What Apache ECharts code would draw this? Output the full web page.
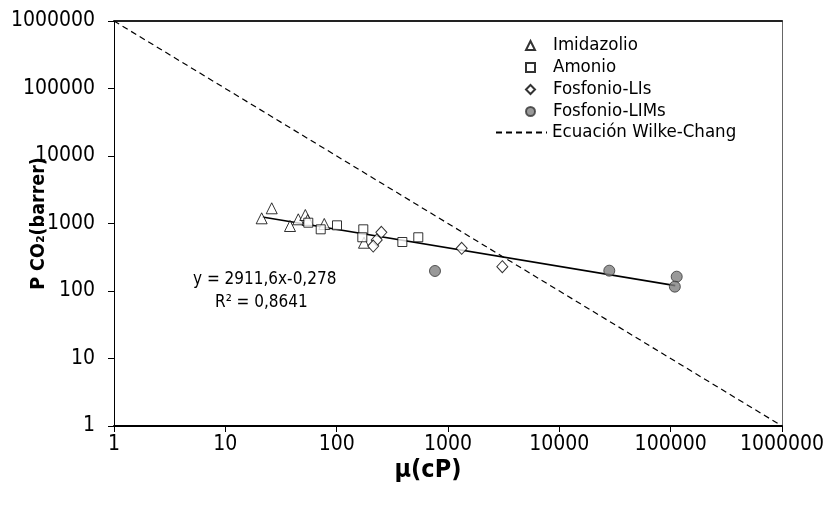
<!DOCTYPE html>
<html>
<head>
<meta charset="utf-8">
<script src="https://cdn.jsdelivr.net/npm/echarts@6/dist/echarts.min.js"></script>
<style>html,body{margin:0;padding:0;background:#fff;}#c{width:826px;height:506px;}</style>
</head>
<body>
<div id="c"></div>
<script>
const imidX = [21.2, 26.1, 38.1, 45.2, 52.3, 54.9, 77.4, 176];
const imidY = [1194, 1680, 918, 1154, 1336, 1127, 984, 519];
const amonX = [55.6, 71.9, 100.7, 173.5, 170, 389, 541];
const amonY = [1028, 820, 940, 820, 625, 532, 625];
const fosX = [252, 229, 213, 1327, 3076];
const fosY = [740, 570, 464, 429, 229];
const limX = [764, 28100, 113300, 109000];
const limY = [198, 200, 163, 116];
const trendX = [21.5, 110000];
const trendY = [1250, 120];
const wcX = [1, 1000000];
const wcY = [1000000, 1];
const tickLabels = ['1','10','100','1000','10000','100000','1000000'];
const seriesNames = ['Imidazolio','Amonio','Fosfonio-LIs','Fosfonio-LIMs','Ecuación Wilke-Chang'];
const eqText = ['y = 2911,6x-0,278', 'R² = 0,8641'];

const zip = (xs, ys) => xs.map((x, i) => [x, ys[i]]);
const FONT = '"DejaVu Sans Condensed", "DejaVu Sans", sans-serif';
const fmt = v => { const k = Math.round(Math.log10(v)); return tickLabels[k] !== undefined ? tickLabels[k] : ''; };

const chart = echarts.init(document.getElementById('c'), null, {renderer: 'canvas'});
const markStyle = {color: '#fff', borderColor: '#000', borderWidth: 1};
chart.setOption({
  animation: false,
  backgroundColor: '#fff',
  textStyle: {fontFamily: FONT},
  grid: {left: 114, right: 44, top: 21, bottom: 80, outerBoundsMode: 'none', containLabel: false},
  legend: [{
    orient: 'vertical', left: 520, top: 31,
    itemWidth: 9, itemHeight: 9, itemGap: 3,
    textStyle: {fontFamily: FONT, fontSize: 18.5, color: '#000', padding: [0, 0, 0, 13]},
    data: seriesNames.slice(0, 4)
  }, {
    orient: 'vertical', left: 490, top: 118,
    itemWidth: 51, itemHeight: 10,
    textStyle: {fontFamily: FONT, fontSize: 18.5, color: '#000'},
    data: [{name: seriesNames[4], itemStyle: {opacity: 0}}]
  }],
  xAxis: [{
    type: 'log', logBase: 10, min: 1, max: 1000000,
    name: 'μ(cP)', nameLocation: 'middle', nameGap: 32, nameMoveOverlap: false,
    nameTextStyle: {fontFamily: FONT, fontSize: 25, fontWeight: 'bold', color: '#000', padding: [0, 40, 0, 0]},
    axisLine: {show: true, onZero: false, lineStyle: {color: '#000', width: 2}},
    axisTick: {show: true, inside: false, length: 6, lineStyle: {color: '#000', width: 1}},
    axisLabel: {fontFamily: FONT, fontSize: 21, color: '#000', margin: 8, formatter: fmt},
    splitLine: {show: false}, minorTick: {show: false}
  }, {
    type: 'log', logBase: 10, min: 1, max: 1000000, position: 'top',
    axisLine: {show: true, onZero: false, lineStyle: {color: '#222', width: 2}},
    axisTick: {show: false}, axisLabel: {show: false}, splitLine: {show: false}
  }],
  yAxis: [{
    type: 'log', logBase: 10, min: 1, max: 1000000,
    name: 'P CO₂(barrer)', nameLocation: 'middle', nameGap: 65, nameRotate: 90, nameMoveOverlap: false,
    nameTextStyle: {fontFamily: FONT, fontSize: 19.5, fontWeight: 'bold', color: '#000'},
    axisLine: {show: true, onZero: false, lineStyle: {color: '#000', width: 1}},
    axisTick: {show: true, inside: false, length: 6, lineStyle: {color: '#000', width: 1}},
    axisLabel: {fontFamily: FONT, fontSize: 21, color: '#000', margin: 19, formatter: fmt},
    splitLine: {show: false}
  }, {
    type: 'log', logBase: 10, min: 1, max: 1000000, position: 'right',
    axisLine: {show: true, onZero: false, lineStyle: {color: '#666', width: 1}},
    axisTick: {show: false}, axisLabel: {show: false}, splitLine: {show: false}
  }],
  series: [
    {name: seriesNames[4], type: 'line', data: zip(wcX, wcY), symbol: 'none', z: 1,
     lineStyle: {color: '#000', width: 1.2, type: [6, 4]}, itemStyle: {color: '#000'}},
    {name: 'trend', type: 'line', data: zip(trendX, trendY), symbol: 'none', z: 2,
     lineStyle: {color: '#000', width: 1.6}},
    {name: seriesNames[0], type: 'scatter', symbol: 'triangle', symbolSize: [11, 11], data: zip(imidX, imidY), itemStyle: markStyle, z: 3},
    {name: seriesNames[1], type: 'scatter', symbol: 'rect', symbolSize: 9, data: zip(amonX, amonY), itemStyle: markStyle, z: 3},
    {name: seriesNames[2], type: 'scatter', symbol: 'diamond', symbolSize: [11, 12], data: zip(fosX, fosY), itemStyle: markStyle, z: 3},
    {name: seriesNames[3], type: 'scatter', symbol: 'circle', symbolSize: 11, data: zip(limX, limY),
     itemStyle: {color: '#808080', borderColor: '#333', borderWidth: 1}, z: 3}
  ],
  graphic: [
    {type: 'text', left: 193, top: 271, style: {text: eqText[0], font: '17px ' + FONT, fill: '#000'}},
    {type: 'text', left: 215, top: 294, style: {text: eqText[1], font: '17px ' + FONT, fill: '#000'}}
  ]
});
</script>
</body>
</html>
